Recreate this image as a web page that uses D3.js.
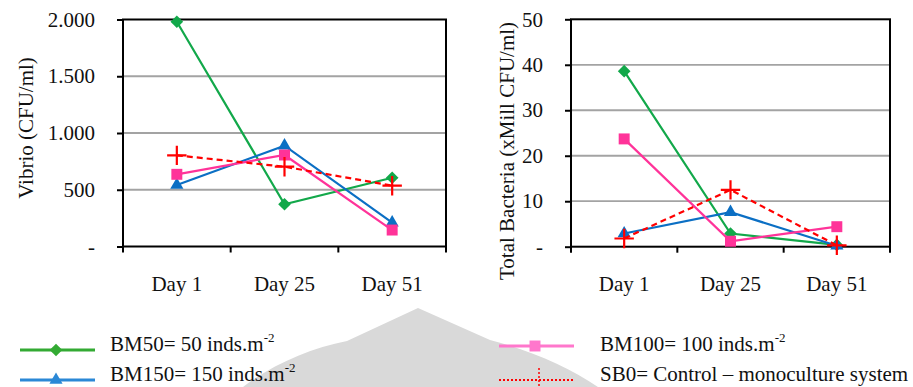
<!DOCTYPE html>
<html>
<head>
<meta charset="utf-8">
<script src="https://cdn.jsdelivr.net/npm/d3@7"></script>
<style>
  body { margin: 0; background: #fff; }
  svg text { font-family: "Liberation Serif", "Times New Roman", serif; fill: #111; }
</style>
</head>
<body>
<svg id="chart" width="913" height="387" viewBox="0 0 913 387"></svg>
<script>
// categories
const days = ["Day 1", "Day 25", "Day 51"];

// Vibrio (CFU/ml)
const vibrioBM50 = [1980, 372, 606];
const vibrioBM150 = [542, 888, 210];
const vibrioBM100 = [636, 806, 145];
const vibrioSB0 = [803, 703, 536];
const vibrioTicks = [0, 500, 1000, 1500, 2000];
const vibrioTickLabels = ["-", "500", "1.000", "1.500", "2.000"];

// Total bacteria (xMill CFU/ml)
const bactBM50 = [38.6, 2.9, 0.4];
const bactBM150 = [2.9, 7.6, 0.2];
const bactBM100 = [23.7, 1.2, 4.4];
const bactSB0 = [1.8, 12.5, 0.3];
const bactTicks = [0, 10, 20, 30, 40, 50];
const bactTickLabels = ["-", "10", "20", "30", "40", "50"];

const series = [
    { key: "BM50", color: "#12a84a", legendColor: "#33aa33", marker: "diamond", dash: null },
    { key: "BM150", color: "#0b6fc4", legendColor: "#2b88d6", marker: "triangle", dash: null },
    { key: "BM100", color: "#ff3399", legendColor: "#ff77cc", marker: "square", dash: null },
    { key: "SB0", color: "#ff0000", legendColor: "#ff0000", marker: "plus", dash: "6,4" }
];

const svg = d3.select("#chart");

// light grey watermark behind the legend
svg.append("path")
    .attr("d", "M243,387 C270,366 310,348 347,341 L418,308 L490,340 C530,350 570,368 598,387 Z")
    .attr("fill", "#d9d9d9");

function markerPath(type) {
    if (type === "diamond") return d3.symbol(d3.symbolSquare, 80)();
    if (type === "triangle") return d3.symbol(d3.symbolTriangle, 75)();
    if (type === "square") return d3.symbol(d3.symbolSquare, 120)();
    return d3.symbol(d3.symbolPlus, 125)();
}

function drawMarker(g, type, color, x, y) {
    const p = g.append("path")
        .attr("d", markerPath(type))
        .attr("transform", `translate(${x},${y})` + (type === "diamond" ? " rotate(45)" : ""));
    if (type === "plus") {
        p.attr("fill", "none").attr("stroke", color).attr("stroke-width", 2.2);
    } else {
        p.attr("fill", color);
    }
    return p;
}

function drawPanel(opt) {
    const g = svg.append("g");
    const x = d3.scaleBand().domain(days).range([opt.x0, opt.x1]);
    const y = d3.scaleLinear().domain([0, opt.max]).range([opt.y1, opt.y0]);

    // gridlines
    g.append("g")
        .selectAll("line")
        .data(opt.ticks.slice(1, -1))
        .join("line")
        .attr("x1", opt.x0).attr("x2", opt.x1)
        .attr("y1", d => y(d)).attr("y2", d => y(d))
        .attr("stroke", "#a3a3a3")
        .attr("stroke-width", 1.8);

    // y axis
    const yAxis = g.append("g")
        .attr("transform", `translate(${opt.x0},0)`)
        .call(d3.axisLeft(y)
            .tickValues(opt.ticks)
            .tickSize(6)
            .tickPadding(22)
            .tickFormat((d, i) => opt.labels[i]));
    yAxis.select(".domain").remove();
    yAxis.selectAll(".tick line").attr("stroke", "#000").attr("stroke-width", 2);
    yAxis.selectAll(".tick text")
        .attr("font-size", 21)
        .attr("font-family", "Liberation Serif")
        .attr("fill", "#111");

    // x tick marks on band edges
    const edges = days.map(d => x(d)).concat([opt.x1]);
    g.append("g")
        .selectAll("line")
        .data(edges)
        .join("line")
        .attr("x1", d => d).attr("x2", d => d)
        .attr("y1", opt.y1).attr("y2", opt.y1 + 6)
        .attr("stroke", "#000")
        .attr("stroke-width", 2);

    // x labels
    g.append("g")
        .selectAll("text")
        .data(days)
        .join("text")
        .attr("x", d => x(d) + x.bandwidth() / 2)
        .attr("y", opt.y1 + 44)
        .attr("text-anchor", "middle")
        .attr("font-size", 21)
        .text(d => d);

    // frame
    g.append("rect")
        .attr("x", opt.x0).attr("y", opt.y0)
        .attr("width", opt.x1 - opt.x0).attr("height", opt.y1 - opt.y0)
        .attr("fill", "none")
        .attr("stroke", "#000")
        .attr("stroke-width", 2);

    // y title
    g.append("text")
        .attr("transform", `translate(${opt.titleX},${opt.titleY}) rotate(-90)`)
        .attr("text-anchor", "middle")
        .attr("dy", "0.35em")
        .attr("font-size", 21)
        .text(opt.title);

    // series
    const line = d3.line()
        .x((d, i) => x(days[i]) + x.bandwidth() / 2)
        .y(d => y(d));

    series.forEach((s, si) => {
        const vals = opt.values[si];
        g.append("path")
            .datum(vals)
            .attr("d", line)
            .attr("fill", "none")
            .attr("stroke", s.color)
            .attr("stroke-width", 2.2)
            .attr("stroke-dasharray", s.dash);
        vals.forEach((v, i) => {
            drawMarker(g, s.marker, s.color, x(days[i]) + x.bandwidth() / 2, y(v));
        });
    });
}

drawPanel({
    x0: 123, x1: 446, y0: 19.5, y1: 246.5,
    max: 2000, ticks: vibrioTicks, labels: vibrioTickLabels,
    values: [vibrioBM50, vibrioBM150, vibrioBM100, vibrioSB0],
    title: "Vibrio (CFU/ml)", titleX: 26, titleY: 128
});

drawPanel({
    x0: 571, x1: 890, y0: 19.3, y1: 246.7,
    max: 50, ticks: bactTicks, labels: bactTickLabels,
    values: [bactBM50, bactBM150, bactBM100, bactSB0],
    title: "Total Bacteria (xMill CFU/ml)", titleX: 507, titleY: 151
});

// legend
const legendItems = [
    { s: series[0], x: 20, y: 350, tx: 110, ty: 351, label: "BM50= 50 inds.m", sup: "-2" },
    { s: series[1], x: 20, y: 380, tx: 110, ty: 381, label: "BM150= 150 inds.m", sup: "-2" },
    { s: series[2], x: 499, y: 346, tx: 600, ty: 351, label: "BM100= 100 inds.m", sup: "-2" },
    { s: series[3], x: 499, y: 380, tx: 600, ty: 381, label: "SB0= Control \u2013 monoculture system", sup: null }
];

const legend = svg.append("g");
legendItems.forEach(it => {
    const lg = legend.append("g");
    lg.append("line")
        .attr("x1", it.x).attr("x2", it.x + 75)
        .attr("y1", it.y).attr("y2", it.y)
        .attr("stroke", it.s.legendColor)
        .attr("stroke-width", it.s.key === "SB0" ? 2 : 3)
        .attr("stroke-dasharray", it.s.key === "SB0" ? "2,2" : null);
    if (it.s.key === "SB0") {
        lg.append("line")
            .attr("x1", it.x + 40).attr("x2", it.x + 40)
            .attr("y1", it.y - 12).attr("y2", it.y + 7)
            .attr("stroke", it.s.legendColor)
            .attr("stroke-width", 1.5)
            .attr("stroke-dasharray", "2,2");
    } else {
        drawMarker(lg, it.s.marker, it.s.legendColor, it.x + 36, it.y);
    }
    const t = lg.append("text")
        .attr("x", it.tx)
        .attr("y", it.ty)
        .attr("font-size", 21)
        .text(it.label);
    if (it.sup) {
        t.append("tspan")
            .attr("font-size", 13)
            .attr("dy", -9)
            .text(it.sup);
    }
});
</script>
</body>
</html>
